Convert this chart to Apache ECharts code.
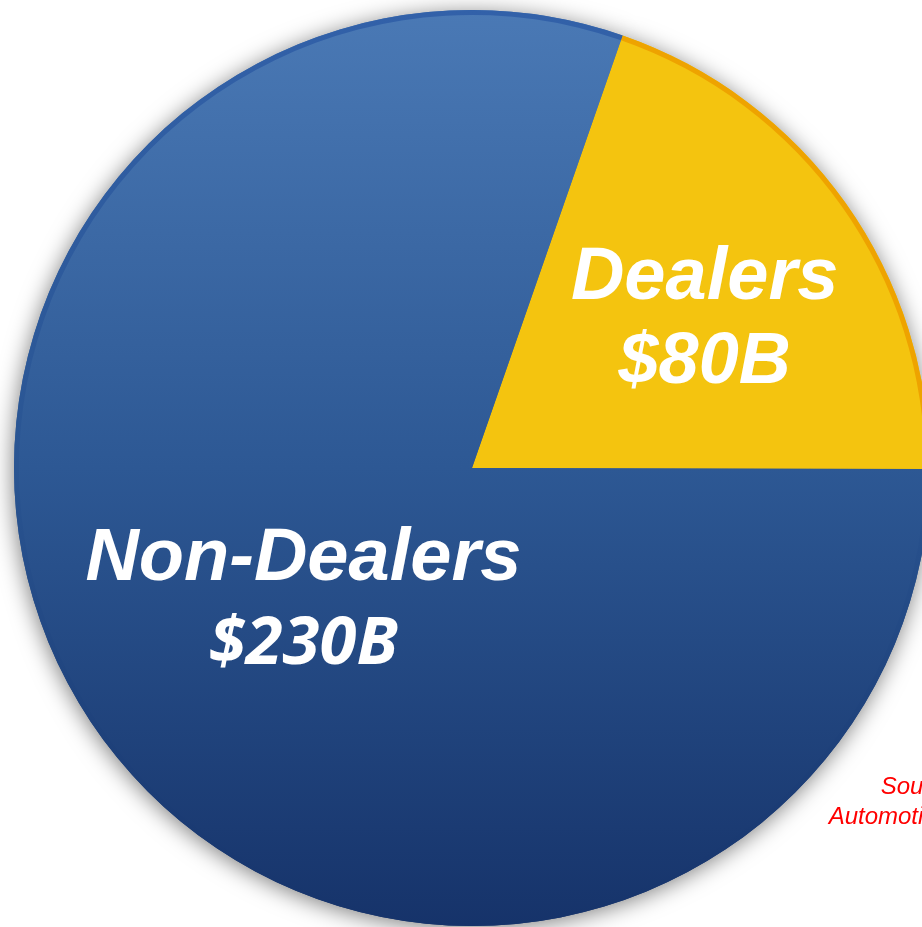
<!DOCTYPE html>
<html>
<head>
<meta charset="utf-8">
<script src="https://cdn.jsdelivr.net/npm/echarts@6/dist/echarts.min.js"></script>
<style>
html,body{margin:0;padding:0;background:#fff;}
#chart{width:922px;height:927px;}
</style>
</head>
<body>
<div id="chart"></div>
<script>
// Data
const categories = ['Dealers', 'Non-Dealers'];
// slice shares as drawn (angle of slice / 360, in %)
const shares = [19.7, 80.3];
// amounts printed on the slices (billions of dollars)
const amounts = [80, 230];
const sourceLines = ['Source:', 'Automotive News'];

const blueFill = {type:'linear', x:0, y:10, x2:0, y2:926, global:true,
  colorStops:[{offset:0,color:'#4a79b5'},{offset:0.5,color:'#2d5894'},{offset:1,color:'#16336a'}]};
const blueEdge = {type:'linear', x:0, y:10, x2:0, y2:926, global:true,
  colorStops:[{offset:0,color:'#3261a9'},{offset:0.5,color:'#2a5592'},{offset:1,color:'#16336a'}]};
const fills = [ '#f4c40f', blueFill ];
const edges = [ '#eea300', blueEdge ];

const labelShift = [ {dx:45, dy:-14}, {dx:19, dy:2} ];

const chart = echarts.init(document.getElementById('chart'), null, {renderer:'canvas'});
const center = [472, 468];
const R = 458;

function mk(colors) {
  return categories.map((c, i) => ({
    name: c, value: shares[i],
    itemStyle: { color: colors[i] }
  }));
}

chart.setOption({
  animation: false,
  series: [
    { // shadow caster
      type: 'pie', center, radius: [0, R], startAngle: 70.8, clockwise: true,
      silent: true, z: 1,
      label: {show:false}, labelLine:{show:false},
      itemStyle: { shadowBlur: 22, shadowColor: 'rgba(0,0,0,0.5)', shadowOffsetX: -1, shadowOffsetY: 3, borderWidth: 0 },
      data: mk(fills)
    },
    { // outer edge ring
      type: 'pie', center, radius: [R - 5, R], startAngle: 70.8, clockwise: true,
      silent: true, z: 3,
      label: {show:false}, labelLine:{show:false},
      itemStyle: { borderWidth: 0 },
      data: mk(edges)
    },
    { // main slices
      type: 'pie', center, radius: [0, R - 4], startAngle: 70.8, clockwise: true,
      z: 2,
      itemStyle: { borderWidth: 0 },
      label: {
        show: true, position: 'inside',
        formatter: p => '{n|' + p.name + '}\n{v' + p.dataIndex + '|$' + amounts[p.dataIndex] + 'B}',
        rich: {
          n: { color:'#fff', fontFamily:'Liberation Sans, Arial, sans-serif', fontWeight:'bold', fontStyle:'italic', fontSize:74, lineHeight:84, align:'center' },
          v0: { color:'#fff', fontFamily:'Liberation Sans, Arial, sans-serif', fontWeight:'bold', fontStyle:'italic', fontSize:72, lineHeight:84, align:'center' },
          v1: { color:'#fff', fontFamily:'Open Sans, sans-serif', fontWeight:'bold', fontStyle:'italic', fontSize:67, lineHeight:86, align:'center' }
        }
      },
      labelLine: {show:false},
      labelLayout: p => labelShift[p.dataIndex],
      data: mk(fills)
    }
  ],
  graphic: sourceLines.map((t, i) => ({
    type: 'text', z: 10,
    style: { text: t, x: 922, y: 787 + i * 30, textAlign: 'center', textVerticalAlign: 'middle',
      font: 'italic 24px "Liberation Sans", Arial, sans-serif', fill: '#ff0000' }
  }))
});
</script>
</body>
</html>
